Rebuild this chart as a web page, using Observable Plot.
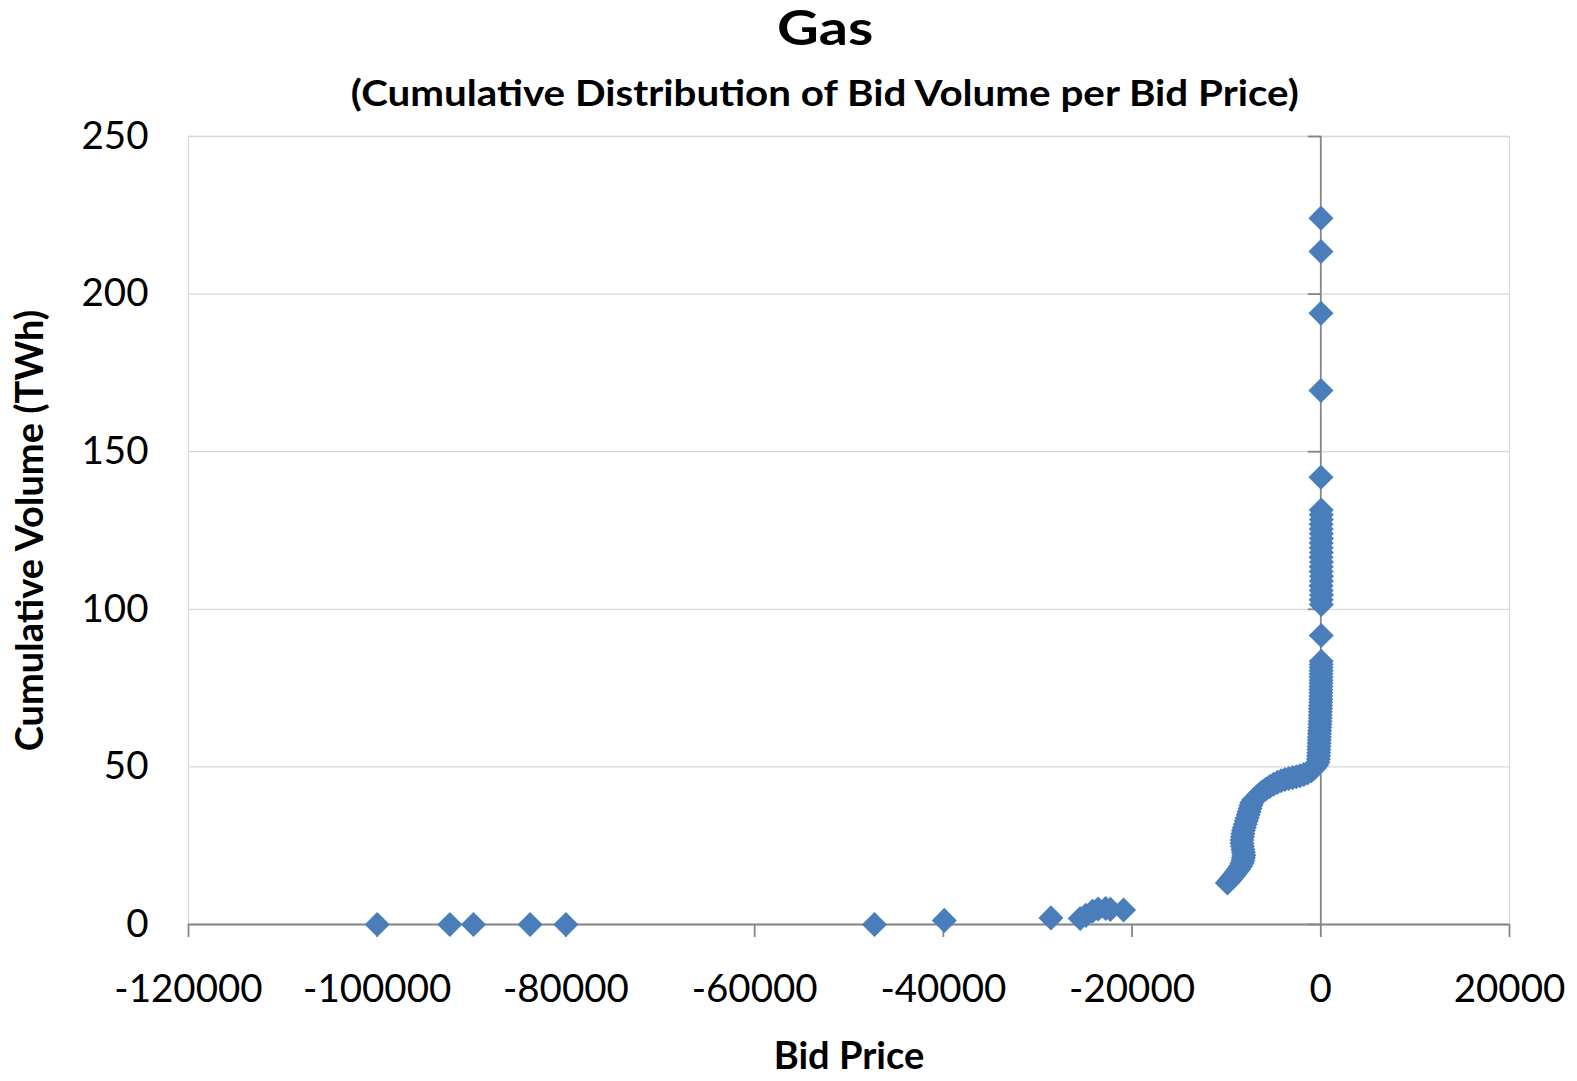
<!DOCTYPE html>
<html>
<head>
<meta charset="utf-8">
<script src="https://cdn.jsdelivr.net/npm/d3@7"></script>
<script src="https://cdn.jsdelivr.net/npm/@observablehq/plot@0.6"></script>
<style>
  html, body { margin: 0; padding: 0; background: #fff; }
  #wrap { position: relative; width: 1577px; height: 1081px; font-family: Lato, "Noto Sans", sans-serif; }
  #head { position: relative; width: 1577px; height: 110px; }
  .t { position: absolute; left: 0; width: 1650px; text-align: center; font-weight: bold; color: #000; white-space: nowrap; }
  .t span { display: inline-block; transform-origin: 50% 50%; }
  #title { top: 3px; font-size: 48px; line-height: 48px; }
  #title span { transform: scaleX(1.2); }
  #subtitle { top: 73px; font-size: 37px; line-height: 37px; }
  #subtitle span { transform: scaleX(1.09); }
</style>
</head>
<body>
<div id="wrap">
  <div id="head">
    <div class="t" id="title"><span id="titleText"></span></div>
    <div class="t" id="subtitle"><span id="subtitleText"></span></div>
  </div>
  <div id="chart"></div>
</div>
<script>
// ---- data ----
const titleText = "Gas";
const subtitleText = "(Cumulative Distribution of Bid Volume per Bid Price)";
const xLabel = "Bid Price";
const yLabel = "Cumulative Volume (TWh)";

const xTicks = [-120000, -100000, -80000, -60000, -40000, -20000, 0, 20000];
const yTicks = [0, 50, 100, 150, 200, 250];

// far-negative bids
const tailPrices  = [-100000, -92300, -89800, -83800, -80000, -47300, -39900, -28600, -25500, -24900, -24200, -23600, -22800, -22300, -20900];
const tailVolumes = [0, 0, 0, 0, 0, 0, 1.3, 2.1, 1.9, 2.9, 4.2, 4.9, 5.1, 4.8, 4.6];

// S-shaped part between -10000 and 0
const curvePrices  = [-9900, -9700, -9500, -9300, -9100, -8900, -8700, -8500, -8350, -8250, -8200, -8150, -8200, -8250, -8300, -8350, -8350, -8300, -8250, -8200, -8100, -8000, -7900, -7800, -7700, -7600, -7500, -7400, -7300, -7100, -6800, -6500, -6200, -5800, -5400, -5000, -4600, -4200, -3800, -3400, -3000, -2600, -2200, -1800, -1400, -1000, -700, -450, -300];
const curveVolumes = [13.2, 13.9, 14.6, 15.3, 16.0, 16.8, 17.6, 18.5, 19.4, 20.3, 21.2, 22.0, 22.9, 23.8, 24.8, 25.8, 26.8, 27.8, 28.8, 29.8, 30.8, 31.8, 32.8, 33.8, 34.8, 35.8, 36.8, 37.8, 38.7, 39.6, 40.4, 41.3, 42.1, 43.0, 43.8, 44.5, 45.1, 45.6, 46.0, 46.3, 46.6, 46.9, 47.2, 47.6, 48.1, 48.8, 49.6, 50.5, 51.5];

// near-vertical stack at price ~0
const stackPrices  = [-250, -230, -220, -200, -190, -170, -160, -150, -140, -120, -100, -90, -70, -60, -50, -40, -30, -20, -10, 0, 0, 10, 10, 20, 20, 30, 30, 30, 40, 40, 40, 50, 50];
const stackVolumes = [52.5, 53.5, 54.5, 55.5, 56.5, 57.5, 58.5, 59.5, 60.5, 61.5, 62.5, 63.5, 64.5, 65.5, 66.5, 67.5, 68.5, 69.5, 70.5, 71.5, 72.5, 73.5, 74.5, 75.5, 76.5, 77.5, 78.5, 79.5, 80.5, 81.5, 82.5, 83.5, 91.7];

const upperPrices  = [60, 40, 70, 50, 30, 60, 80, 40, 50, 70, 30, 60, 50, 40, 70, 60, 50, 40, 60, 50, 50];
const upperVolumes = [101.5, 103, 104.5, 106, 107.5, 109, 110.5, 112, 113.5, 115, 116.5, 118, 119.5, 121, 122.5, 124, 125.5, 127, 128.5, 130, 131.5];

const topPrices  = [20, 20, 20, 20, 20];
const topVolumes = [141.9, 169.4, 193.9, 213.5, 224.1];

const prices  = [...tailPrices, ...curvePrices, ...stackPrices, ...upperPrices, ...topPrices];
const volumes = [...tailVolumes, ...curveVolumes, ...stackVolumes, ...upperVolumes, ...topVolumes];
const bids = prices.map((p, i) => ({price: p, volume: volumes[i]}));

document.getElementById("titleText").textContent = titleText;
document.getElementById("subtitleText").textContent = subtitleText;

// short horizontal tick to the left of the vertical axis line
const leftTick = { draw(ctx) { ctx.moveTo(-13, 0); ctx.lineTo(0, 0); } };

const axisColor = "#868686";
const gridColor = "#d9d9d9";
const fs = 38.5;
const labelFs = 38;

const chart = Plot.plot({
  width: 1577,
  height: 971,
  marginTop: 26,
  marginBottom: 157,
  marginLeft: 188,
  marginRight: 68,
  style: { fontFamily: "Lato, 'Noto Sans', sans-serif", fontSize: fs + "px", color: "#000", background: "#fff" },
  x: { domain: [xTicks[0], xTicks[xTicks.length - 1]], ticks: xTicks, tickFormat: d => String(d) },
  y: { domain: [yTicks[0], yTicks[yTicks.length - 1]], ticks: yTicks, tickFormat: d => String(d) },
  marks: [
    Plot.gridY(yTicks, { stroke: gridColor, strokeOpacity: 1, strokeWidth: 1.3 }),
    Plot.frame({ stroke: gridColor, strokeWidth: 1.3 }),
    Plot.axisY(yTicks, { anchor: "left", tickSize: 0, tickPadding: 40, fontSize: fs, label: null, tickFormat: d => String(d) }),
    Plot.axisX(xTicks, { anchor: "bottom", tickSize: 13, tickPadding: 37, stroke: axisColor, strokeWidth: 1.8, fontSize: fs, label: null, tickFormat: d => String(d) }),
    Plot.ruleY([0], { stroke: axisColor, strokeWidth: 1.8 }),
    Plot.ruleX([0], { stroke: axisColor, strokeWidth: 1.8 }),
    Plot.dot(yTicks, { x: () => 0, y: d => d, symbol: leftTick, stroke: axisColor, strokeWidth: 1.8, fill: "none" }),
    Plot.dot(bids, { x: "price", y: "volume", symbol: "diamond2", r: 11.3, fill: "#4a7ebb", stroke: "none" }),
    Plot.text([xLabel], { frameAnchor: "bottom", lineAnchor: "bottom", dy: 144, text: d => d, textAnchor: "middle", fontWeight: "bold", fontSize: labelFs, fill: "#000" }),
    Plot.text([yLabel], { frameAnchor: "left", dx: -158, rotate: -90, text: d => d, textAnchor: "middle", fontWeight: "bold", fontSize: labelFs, fill: "#000" })
  ]
});
document.getElementById("chart").appendChild(chart);
</script>
</body>
</html>
